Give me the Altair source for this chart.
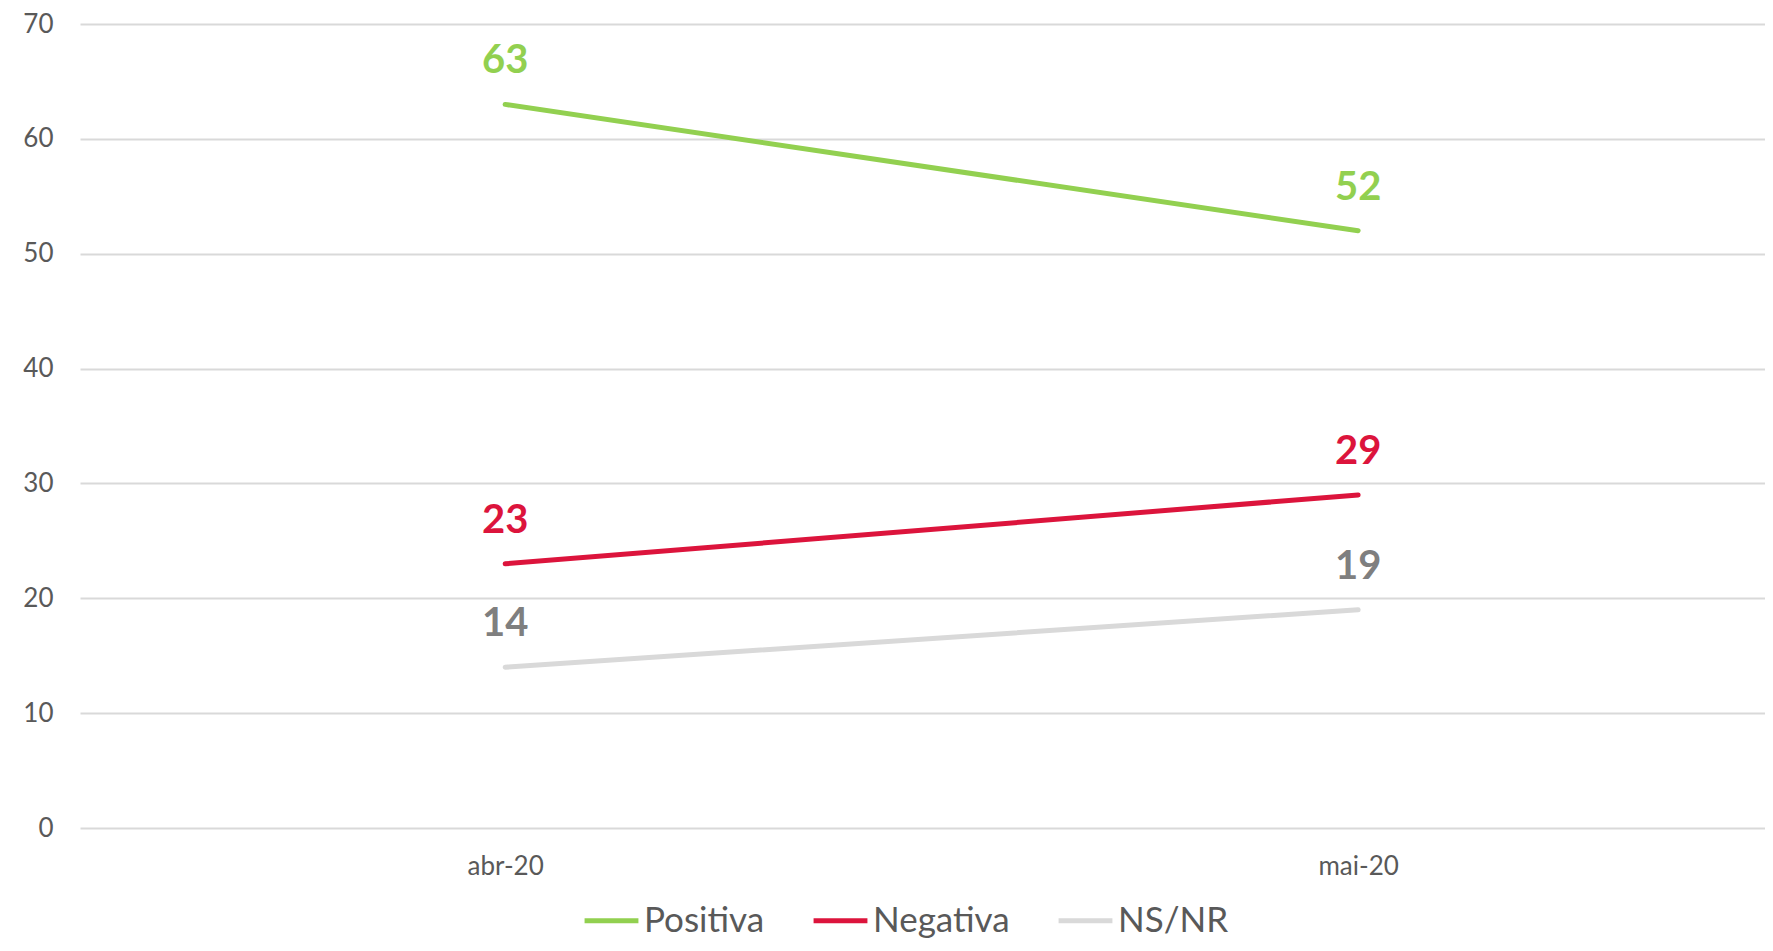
import altair as alt
import pandas as pd

months = ["abr-20", "mai-20"]
series = ["Positiva", "Negativa", "NS/NR"]
positiva = [63, 52]
negativa = [23, 29]
nsnr = [14, 19]
line_colors = ["#92D050", "#DC143C", "#D9D9D9"]
label_colors = ["#92D050", "#DC143C", "#7F7F7F"]

rows = []
for name, vals, lc in zip(series, [positiva, negativa, nsnr], label_colors):
    for m, v in zip(months, vals):
        rows.append({"mes": m, "serie": name, "valor": v, "lcolor": lc})
df = pd.DataFrame(rows)

FONT = "Lato"

x = alt.X("mes:N", sort=months, title=None,
          scale=alt.Scale(type="point", padding=0.4877, align=0.511),
          axis=alt.Axis(labelAngle=0, domain=False, ticks=False, grid=False,
                        labelFontSize=26, labelColor="#595959", labelFont=FONT,
                        labelPadding=25))
y = alt.Y("valor:Q", title=None,
          scale=alt.Scale(domain=[0, 70], nice=False),
          axis=alt.Axis(values=[0, 10, 20, 30, 40, 50, 60, 70], domain=False, ticks=False,
                        grid=True, gridColor="#D9D9D9", gridWidth=2,
                        labelFontSize=26, labelColor="#595959", labelFont=FONT,
                        labelPadding=27))

lines = alt.Chart(df).mark_line(strokeWidth=5, strokeCap="round").encode(
    x=x, y=y,
    color=alt.Color("serie:N", sort=series,
                    scale=alt.Scale(domain=series, range=line_colors),
                    legend=alt.Legend(title=None, orient="none", direction="horizontal",
                                      legendX=502, legendY=867,
                                      symbolType="stroke", symbolSize=2900,
                                      symbolStrokeWidth=5, labelFontSize=35,
                                      labelFont=FONT, labelColor="#595959",
                                      labelOffset=3, columnPadding=38,
                                      symbolOffset=0)),
    detail="serie:N",
)

labels = alt.Chart(df).mark_text(fontSize=40, fontWeight="bold", font=FONT,
                                 baseline="middle", align="center", dy=-43).encode(
    x=alt.X("mes:N", sort=months),
    y=alt.Y("valor:Q"),
    text=alt.Text("valor:Q"),
    color=alt.Color("lcolor:N", scale=None),
)

chart = alt.layer(lines, labels).properties(
    width=1685, height=804,
    padding={"left": 72, "top": 16, "right": 0, "bottom": 115},
    autosize=alt.AutoSizeParams(type="none"),
    background="white",
).configure_view(strokeWidth=0).configure_axis(domain=False)

chart.save("out.html", embed_options={"renderer": "svg", "actions": False})
